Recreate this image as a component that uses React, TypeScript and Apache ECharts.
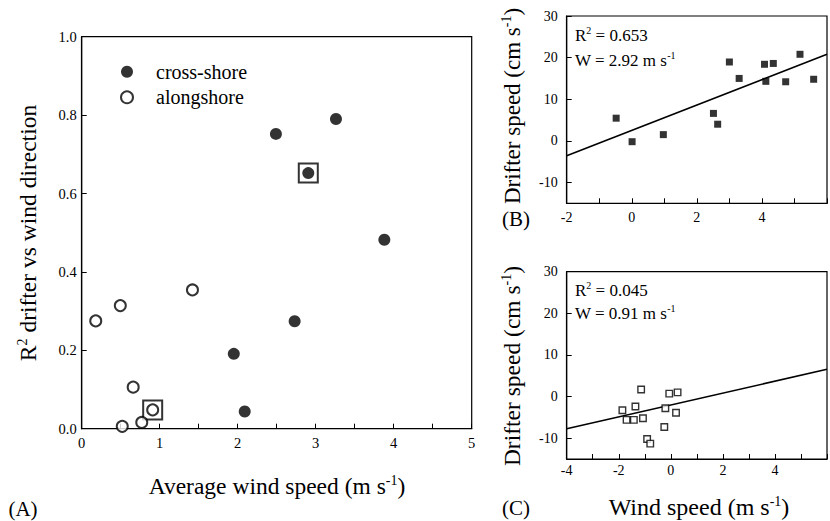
import React, { useEffect, useRef } from "react";
import * as echarts from "echarts";

// Panel A: R^2 drifter vs wind direction against average wind speed
const crossX = [2.49, 3.26, 2.905, 3.88, 1.95, 2.73, 2.09];
const crossY = [0.752, 0.79, 0.652, 0.482, 0.191, 0.274, 0.044];
const alongX = [0.18, 0.495, 1.42, 0.66, 0.91, 0.77, 0.52];
const alongY = [0.275, 0.314, 0.354, 0.106, 0.048, 0.016, 0.006];
const boxedX = [2.905, 0.91];
const boxedY = [0.652, 0.048];

// Panel B: cross-shore drifter speed vs wind speed
const bX = [-0.48, 0.01, 0.97, 2.51, 2.64, 3.0, 3.3, 4.08, 4.12, 4.35, 4.73, 5.17, 5.59];
const bY = [5.45, -0.2, 1.5, 6.6, 4.0, 18.95, 15.0, 18.4, 14.3, 18.6, 14.2, 20.8, 14.8];
const bLineX = [-2, 6];
const bLineY = [-3.6, 20.8];

// Panel C: alongshore drifter speed vs wind speed
const cX = [-1.86, -1.7, -1.42, -1.36, -1.14, -1.07, -0.91, -0.79, -0.25, -0.21, -0.06, 0.2, 0.26];
const cY = [-3.3, -5.6, -5.6, -2.4, 1.7, -5.2, -10.2, -11.3, -7.3, -2.8, 0.7, -3.9, 1.0];
const cLineX = [-4, 6];
const cLineY = [-7.75, 6.55];

const speedTicks = [-10, 0, 10, 20, 30];

const FONT = "'Liberation Serif', 'Times New Roman', serif";

const pairs = (xs: number[], ys: number[]) => xs.map((x, i) => [x, ys[i]]);
const isInt = (v: number) => Math.abs(v - Math.round(v)) < 1e-6;

const axisBase = {
  splitLine: { show: false },
  axisLine: { show: true, onZero: false, lineStyle: { color: "#000", width: 1.2 } },
  axisTick: { show: true, inside: true, length: 5, lineStyle: { color: "#000", width: 1 } },
};

const supRich = (size: number) => ({
  n: { fontSize: size, fontFamily: FONT, color: "#000", lineHeight: size + 2 },
  sup: { fontSize: Math.round(size * 0.6), fontFamily: FONT, color: "#000", verticalAlign: "top" as const, lineHeight: size + 2 },
});

const tickLabel = (size: number, margin: number, extra: any = {}) => ({
  fontSize: size, color: "#000", fontFamily: FONT, margin, ...extra,
});

export default function App() {
  const ref = useRef<HTMLDivElement>(null);
  useEffect(() => {
    if (!ref.current) return;
    const chart = echarts.init(ref.current, null, { renderer: "svg" });
    const option: any = {
      animation: false,
      backgroundColor: "#fff",
      textStyle: { fontFamily: FONT, color: "#000" },
      grid: [
        { left: 81.7, top: 36.7, width: 390, height: 392, show: true, borderColor: "#000", borderWidth: 1.2 },
        { left: 566.7, top: 16, width: 266.7, height: 187.3, show: true, borderColor: "#000", borderWidth: 1.2 },
        { left: 566.7, top: 271.7, width: 266.7, height: 187.3, show: true, borderColor: "#000", borderWidth: 1.2 },
      ],
      xAxis: [
        {
          ...axisBase, type: "value", gridIndex: 0, min: 0, max: 5, interval: 0.5,
          axisLabel: tickLabel(14.5, 7, { formatter: (v: number) => (isInt(v) ? String(Math.round(v)) : "") }),
        },
        {
          ...axisBase, type: "value", gridIndex: 1, min: -2, max: 6, interval: 1,
          axisLabel: tickLabel(14, 7, { formatter: (v: number) => (isInt(v) && Math.round(v) % 2 === 0 && v < 6 ? String(Math.round(v)) : "") }),
        },
        {
          ...axisBase, type: "value", gridIndex: 2, min: -4, max: 6, interval: 1,
          axisLabel: tickLabel(14, 4, { formatter: (v: number) => (isInt(v) && Math.round(v) % 2 === 0 && v < 6 ? String(Math.round(v)) : "") }),
        },
      ],
      yAxis: [
        {
          ...axisBase, type: "value", gridIndex: 0, min: 0, max: 1, interval: 0.2,
          axisLabel: tickLabel(14.5, 5, { formatter: (v: number) => v.toFixed(1) }),
        },
        {
          ...axisBase, type: "value", gridIndex: 1, min: -15, max: 30,
          axisTick: { ...axisBase.axisTick, customValues: speedTicks },
          axisLabel: tickLabel(14, 9, { customValues: speedTicks }),
        },
        {
          ...axisBase, type: "value", gridIndex: 2, min: -15, max: 30,
          axisTick: { ...axisBase.axisTick, customValues: speedTicks },
          axisLabel: tickLabel(14, 9, { customValues: speedTicks }),
        },
      ],
      legend: {
        orient: "vertical",
        left: 115,
        top: 56.7,
        itemWidth: 12,
        itemHeight: 12,
        itemGap: 5.6,
        data: ["cross-shore", "alongshore"],
        textStyle: { fontSize: 20, fontFamily: FONT, color: "#000", lineHeight: 20, padding: [0, 0, 0, 18] },
      },
      series: [
        {
          name: "boxed", type: "scatter", xAxisIndex: 0, yAxisIndex: 0, symbol: "rect", symbolSize: 19, z: 1,
          itemStyle: { color: "rgba(0,0,0,0)", borderColor: "#000", borderWidth: 2 },
          data: pairs(boxedX, boxedY),
        },
        {
          name: "cross-shore", type: "scatter", xAxisIndex: 0, yAxisIndex: 0, symbol: "circle", symbolSize: 12, z: 3,
          itemStyle: { color: "#000" },
          data: pairs(crossX, crossY),
        },
        {
          name: "alongshore", type: "scatter", xAxisIndex: 0, yAxisIndex: 0, symbol: "circle", symbolSize: 11, z: 3,
          itemStyle: { color: "#fff", borderColor: "#000", borderWidth: 2 },
          data: pairs(alongX, alongY),
        },
        {
          name: "B fit", type: "line", xAxisIndex: 1, yAxisIndex: 1, showSymbol: false, z: 2,
          lineStyle: { color: "#000", width: 1.6 },
          data: pairs(bLineX, bLineY),
        },
        {
          name: "B points", type: "scatter", xAxisIndex: 1, yAxisIndex: 1, symbol: "rect", symbolSize: 7, z: 3,
          itemStyle: { color: "#000" },
          data: pairs(bX, bY),
        },
        {
          name: "C fit", type: "line", xAxisIndex: 2, yAxisIndex: 2, showSymbol: false, z: 2,
          lineStyle: { color: "#000", width: 1.6 },
          data: pairs(cLineX, cLineY),
        },
        {
          name: "C points", type: "scatter", xAxisIndex: 2, yAxisIndex: 2, symbol: "rect", symbolSize: 6.5, z: 3,
          itemStyle: { color: "#fff", borderColor: "#000", borderWidth: 1.4 },
          data: pairs(cX, cY),
        },
      ],
      graphic: [
        {
          type: "text", x: 28, y: 233, rotation: Math.PI / 2,
          style: { text: "{n|R}{sup|2}{n| drifter vs wind direction}", rich: supRich(23.5), align: "center", verticalAlign: "middle" },
        },
        {
          type: "text", x: 277, y: 486,
          style: { text: "{n|Average wind speed (m s}{sup|-1}{n|)}", rich: supRich(23.5), align: "center", verticalAlign: "middle" },
        },
        { type: "text", x: 23, y: 509, style: { text: "(A)", font: `21px ${FONT}`, fill: "#000", align: "center", verticalAlign: "middle" } },
        {
          type: "text", x: 512, y: 106, rotation: Math.PI / 2,
          style: { text: "{n|Drifter speed (cm s}{sup|-1}{n|)}", rich: supRich(23), align: "center", verticalAlign: "middle" },
        },
        {
          type: "text", x: 512, y: 366, rotation: Math.PI / 2,
          style: { text: "{n|Drifter speed (cm s}{sup|-1}{n|)}", rich: supRich(23.5), align: "center", verticalAlign: "middle" },
        },
        {
          type: "text", x: 699, y: 507,
          style: { text: "{n|Wind speed (m s}{sup|-1}{n|)}", rich: supRich(24), align: "center", verticalAlign: "middle" },
        },
        { type: "text", x: 516, y: 219, style: { text: "(B)", font: `21px ${FONT}`, fill: "#000", align: "center", verticalAlign: "middle" } },
        { type: "text", x: 516, y: 508, style: { text: "(C)", font: `21px ${FONT}`, fill: "#000", align: "center", verticalAlign: "middle" } },
        {
          type: "text", x: 575, y: 35,
          style: { text: "{n|R}{sup|2}{n| = 0.653}", rich: supRich(17), align: "left", verticalAlign: "middle" },
        },
        {
          type: "text", x: 575, y: 60,
          style: { text: "{n|W = 2.92 m s}{sup|-1}", rich: supRich(17), align: "left", verticalAlign: "middle" },
        },
        {
          type: "text", x: 575, y: 290,
          style: { text: "{n|R}{sup|2}{n| = 0.045}", rich: supRich(17), align: "left", verticalAlign: "middle" },
        },
        {
          type: "text", x: 575, y: 313,
          style: { text: "{n|W = 0.91 m s}{sup|-1}", rich: supRich(17), align: "left", verticalAlign: "middle" },
        },
      ],
    };
    chart.setOption(option);
    return () => chart.dispose();
  }, []);
  return <div ref={ref} style={{ position: "absolute", left: 0, top: 0, width: 830, height: 521 }} />;
}
